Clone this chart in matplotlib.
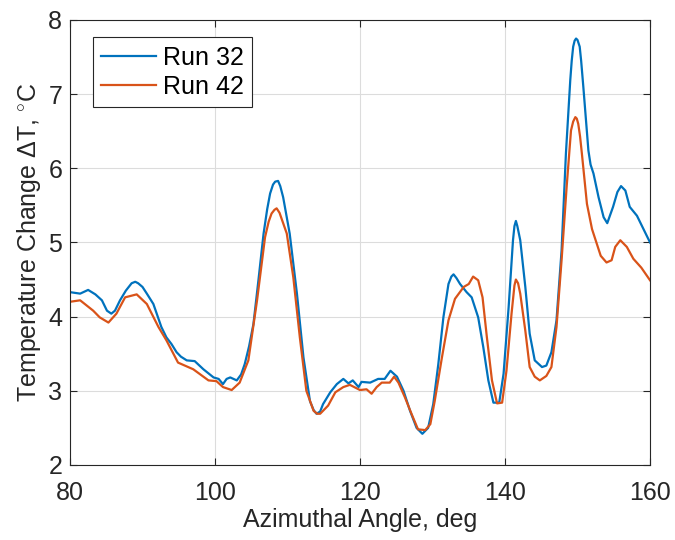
import matplotlib
matplotlib.use('Agg')
import matplotlib.pyplot as plt

# data
angle_32 = [80, 81.4, 82.5, 83.5, 84.4, 85.1, 85.7, 86.2, 86.9, 87.7, 88.5, 89.0, 89.4, 90.0, 90.6,
            91.5, 92.6, 93.3, 94.0, 94.7, 95.3, 96.1, 97.2, 98.4, 99.8, 100.5, 101.1, 101.6,
            102.1, 103.0, 103.6, 104.1, 104.7, 105.3, 106.0, 106.7, 107.2, 107.6, 108.0, 108.3,
            108.7, 109.0, 109.4, 110.3, 111.3, 112.2, 113.1, 113.6, 114.0, 114.5, 114.9, 115.9,
            116.8, 117.7, 118.4, 119.0, 119.8, 120.2, 121.4, 122.5, 123.4, 124.2, 125.1, 126.0,
            126.9, 127.8, 128.6, 129.4, 130.1, 130.8, 131.5, 132.2, 132.6, 132.9, 133.3, 133.8,
            134.7, 135.4, 136.3, 137.0, 137.7, 138.4, 139.2, 139.8, 140.5, 141.1, 141.3, 141.5,
            141.7, 142.1, 142.8, 143.4, 144.1, 145.1, 145.7, 146.4, 147.1, 147.8, 148.4, 149.0,
            149.2, 149.4, 149.6, 149.8, 150.0, 150.3, 150.5, 150.8, 151.5, 151.8, 152.2, 152.9,
            153.6, 154.1, 154.9, 155.5, 156.0, 156.6, 157.2, 158.2, 159.1, 160]
run_32 = [4.33, 4.31, 4.36, 4.30, 4.22, 4.08, 4.04, 4.08, 4.22, 4.35, 4.45, 4.47, 4.45, 4.40,
          4.31, 4.17, 3.86, 3.72, 3.63, 3.52, 3.46, 3.41, 3.40, 3.29, 3.18, 3.16, 3.09, 3.16,
          3.18, 3.14, 3.22, 3.36, 3.60, 3.90, 4.50, 5.12, 5.45, 5.66, 5.78, 5.82,
          5.83, 5.76, 5.61, 5.12, 4.31, 3.45, 2.86, 2.74, 2.69, 2.72, 2.82, 2.98,
          3.09, 3.16, 3.10, 3.14, 3.05, 3.12, 3.11, 3.16, 3.16, 3.27, 3.19, 3.00,
          2.73, 2.50, 2.42, 2.50, 2.82, 3.36, 3.99, 4.44, 4.54, 4.57, 4.52, 4.44,
          4.33, 4.26, 3.99, 3.59, 3.14, 2.84, 2.84, 3.23, 4.13, 5.03, 5.22, 5.29,
          5.22, 5.03, 4.40, 3.77, 3.41, 3.32, 3.34, 3.52, 3.95, 4.89, 6.20, 7.19,
          7.45, 7.64, 7.72, 7.75, 7.73, 7.64, 7.45, 7.10, 6.24, 6.05, 5.93, 5.61,
          5.34, 5.26, 5.48, 5.68, 5.76, 5.70, 5.48, 5.36, 5.18, 5.00]

angle_42 = [80, 81.4, 83.2, 84.1, 85.3, 86.4, 87.6, 89.2, 90.6, 92.2, 93.3, 94.9, 97.0, 99.1,
            100.2, 101.1, 102.3, 103.4, 104.6, 105.8, 106.9, 107.4, 107.8, 108.2, 108.5, 108.9,
            109.9, 110.8, 111.7, 112.6, 113.6, 114.1, 114.5, 115.6, 116.6, 117.7, 118.6, 120.0,
            120.9, 121.6, 122.3, 123.0, 124.1, 124.7, 125.3, 126.2, 127.1, 128.0, 129.0, 129.7,
            130.3, 131.3, 132.2, 133.1, 134.3, 135.0, 135.6, 136.3, 136.9, 137.5, 138.2, 138.9,
            139.6, 140.2, 140.9, 141.3, 141.5, 141.8, 142.1, 142.8, 143.4, 144.1, 144.8, 145.7,
            146.4, 147.1, 147.8, 148.5, 149.1, 149.4, 149.7, 149.9, 150.1, 150.35, 150.6, 151.3,
            152.0, 152.6, 153.2, 154.0, 154.7, 155.2, 155.9, 156.8, 157.7, 158.8, 160]
run_42 = [4.20, 4.22, 4.08, 3.99, 3.92, 4.04, 4.26, 4.30, 4.17, 3.86, 3.68, 3.38, 3.29, 3.14,
          3.13, 3.05, 3.01, 3.11, 3.41, 4.22, 5.07, 5.28, 5.39, 5.44, 5.46, 5.40,
          5.12, 4.53, 3.72, 3.00, 2.73, 2.69, 2.69, 2.80, 2.98, 3.05, 3.08, 3.01,
          3.02, 2.96, 3.05, 3.11, 3.11, 3.19, 3.11, 2.91, 2.69, 2.48, 2.47, 2.55,
          2.86, 3.45, 3.95, 4.24, 4.40, 4.44, 4.54, 4.49, 4.26, 3.72, 3.14, 2.83,
          2.84, 3.27, 4.04, 4.42, 4.50, 4.45, 4.31, 3.81, 3.32, 3.19, 3.14, 3.20,
          3.32, 3.86, 4.76, 5.75, 6.51, 6.63, 6.69, 6.67, 6.60, 6.43, 6.20, 5.52,
          5.18, 5.00, 4.82, 4.73, 4.76, 4.94, 5.03, 4.94, 4.78, 4.66, 4.49]

plt.rcParams['font.family'] = ['Liberation Sans', 'DejaVu Sans']
plt.rcParams['mathtext.fontset'] = 'custom'
plt.rcParams['mathtext.rm'] = 'Liberation Sans'

fs = 18
txt = '#262626'

fig = plt.figure(figsize=(6.75, 5.4), dpi=100)
ax = fig.add_axes([0.1037, 0.139, 0.8593, 0.824])

ax.plot(angle_32, run_32, color='#0072BD', lw=1.6, label='Run 32')
ax.plot(angle_42, run_42, color='#D95319', lw=1.6, label='Run 42')

ax.set_xlim(80, 160)
ax.set_ylim(2, 8)
ax.set_xticks(range(80, 161, 20))
ax.set_yticks(range(2, 9))
ax.grid(True, color='#dcdcdc', lw=0.8)
ax.set_axisbelow(True)
ax.tick_params(direction='in', top=True, right=True, labelsize=fs,
               length=5, color=txt, labelcolor=txt)
ax.tick_params(axis='x', pad=11.5)
ax.tick_params(axis='y', pad=5.5)
for s in ax.spines.values():
    s.set_color(txt)
    s.set_linewidth(0.8)

ax.set_xlabel('Azimuthal Angle, deg', fontsize=fs, color=txt, labelpad=2)
ax.set_ylabel(r'Temperature Change $\Delta$T, $^{\circ}$C', fontsize=fs,
              color=txt, labelpad=4)

leg = ax.legend(loc='upper left', bbox_to_anchor=(0.039, 0.962), borderaxespad=0,
                fontsize=fs, fancybox=False, framealpha=1, edgecolor=txt,
                handlelength=2.2, handletextpad=0.25, borderpad=0.35, labelspacing=0.2)
leg.get_frame().set_linewidth(0.8)

fig.savefig('out.png', dpi=100)
